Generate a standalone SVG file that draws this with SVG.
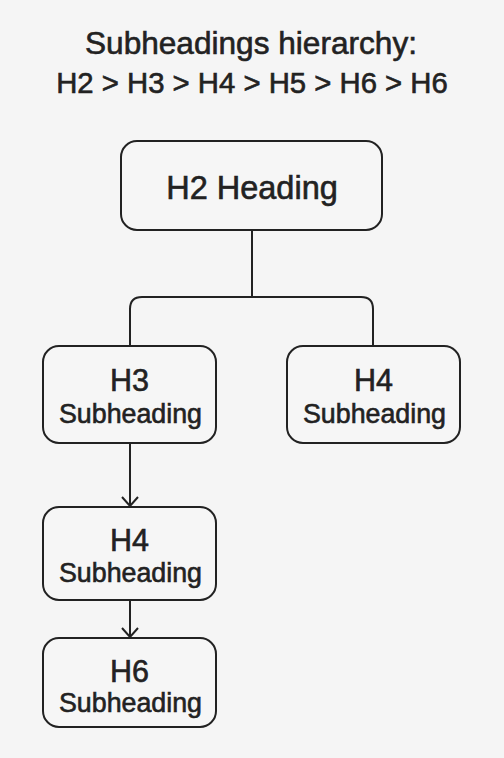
<svg xmlns="http://www.w3.org/2000/svg" width="504" height="758" viewBox="0 0 504 758">
<defs>
<style>
.t{font-family:"Liberation Sans",Arial,sans-serif;fill:#222;stroke:#222;stroke-width:0.6;text-anchor:middle}
.box{fill:#f6f6f6;stroke:#222;stroke-width:2}
.ln{fill:none;stroke:#222;stroke-width:2}
</style>
<marker id="arr" viewBox="0 0 12 18" refX="10.5" refY="9" markerWidth="12" markerHeight="18" markerUnits="userSpaceOnUse" orient="auto">
<path d="M1.5,1 L10.5,9 L1.5,17" fill="none" stroke="#222" stroke-width="2"/>
</marker>
</defs>
<rect width="504" height="758" fill="#f5f5f5"/>
<g id="title">
<text class="t" x="251" y="54" font-size="31.6">Subheadings hierarchy:</text>
<text class="t" x="252" y="93" font-size="29.3">H2 &gt; H3 &gt; H4 &gt; H5 &gt; H6 &gt; H6</text>
</g>
<g id="h2">
<rect class="box" x="121" y="141" width="261" height="89" rx="16"/>
<text class="t" x="252" y="199" font-size="32.5">H2 Heading</text>
</g>
<g id="h3">
<rect class="box" x="43" y="346" width="173" height="97" rx="16"/>
<text class="t" x="129.5" y="391" font-size="30.5">H3</text>
<text class="t" x="130.5" y="423" font-size="26.8">Subheading</text>
</g>
<g id="h4right">
<rect class="box" x="287" y="346" width="173" height="97" rx="16"/>
<text class="t" x="373.5" y="391" font-size="30.5">H4</text>
<text class="t" x="374.5" y="423" font-size="26.8">Subheading</text>
</g>
<g id="h4">
<rect class="box" x="43" y="507" width="173" height="93" rx="16"/>
<text class="t" x="129.5" y="551" font-size="30.5">H4</text>
<text class="t" x="130.5" y="582" font-size="26.8">Subheading</text>
</g>
<g id="h6">
<rect class="box" x="43" y="638" width="173" height="89" rx="16"/>
<text class="t" x="129.5" y="682" font-size="30.5">H6</text>
<text class="t" x="130.5" y="712" font-size="26.8">Subheading</text>
</g>
<g id="connectors">
<path class="ln" d="M252,231 V297"/>
<path class="ln" d="M130,345 V309 Q130,297 142,297 H361 Q373,297 373,309 V345"/>
<path class="ln" d="M130,444 V506" marker-end="url(#arr)"/>
<path class="ln" d="M130,601 V637" marker-end="url(#arr)"/>
</g>
</svg>
